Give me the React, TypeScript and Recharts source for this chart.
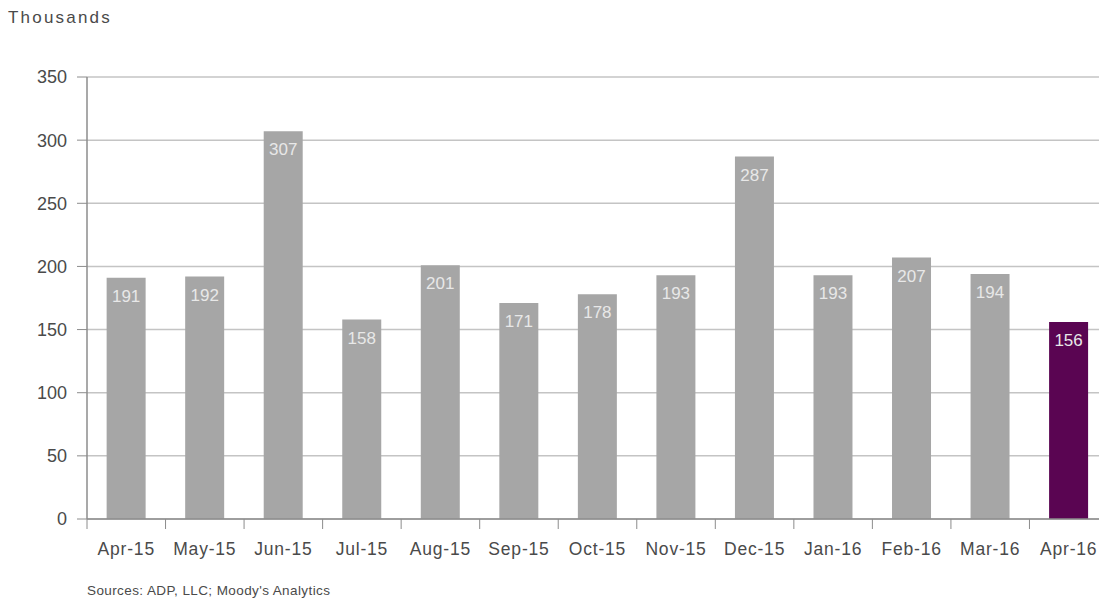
import React from "react";
import { BarChart, Bar, XAxis, YAxis, CartesianGrid, Cell, LabelList } from "recharts";

const categories = ["Apr-15", "May-15", "Jun-15", "Jul-15", "Aug-15", "Sep-15", "Oct-15", "Nov-15", "Dec-15", "Jan-16", "Feb-16", "Mar-16", "Apr-16"];
const values = [191, 192, 307, 158, 201, 171, 178, 193, 287, 193, 207, 194, 156];
const yTicks = [0, 50, 100, 150, 200, 250, 300, 350];

const data = categories.map((c, i) => ({ name: c, value: values[i] }));

const CHART_W = 1108;
const CHART_H = 601;
const Y_AXIS_W = 87;
const M_RIGHT = 0;
const BAND = (CHART_W - Y_AXIS_W - M_RIGHT) / categories.length;
const FONT = "'Liberation Sans', Arial, sans-serif";

const XTick = (props: any) => {
  const { x, y, payload, index } = props;
  return (
    <g>
      <line x1={x - BAND / 2} x2={x - BAND / 2} y1={y} y2={y + 10} stroke="#8c8c8c" strokeWidth={1} />
      {index === categories.length - 1 && (
        <line x1={x + BAND / 2} x2={x + BAND / 2} y1={y} y2={y + 10} stroke="#8c8c8c" strokeWidth={1} />
      )}
      <text x={x} y={y + 36} textAnchor="middle" fill="#4a4a4a" fontSize={17.5} fontFamily={FONT} letterSpacing={0.8}>
        {payload.value}
      </text>
    </g>
  );
};

export default function App() {
  return (
    <div style={{ position: "absolute", left: 0, top: 0, width: 1099, height: 601, overflow: "hidden", background: "#fff", fontFamily: FONT }}>
      <div style={{ position: "absolute", left: 8, top: 8, fontSize: 17, color: "#4a4a4a", letterSpacing: 2.2 }}>Thousands</div>
      <div style={{ position: "absolute", left: 87, top: 583, fontSize: 13.5, color: "#4a4a4a", letterSpacing: 0.4 }}>
        Sources: ADP, LLC; Moody's Analytics
      </div>
      <BarChart
        width={CHART_W}
        height={CHART_H}
        data={data}
        margin={{ top: 77, right: M_RIGHT, bottom: 42, left: 0 }}
        barCategoryGap="25%"
      >
        <CartesianGrid vertical={false} stroke="#c4c4c4" strokeWidth={1.5} />
        <XAxis
          dataKey="name"
          height={40}
          tickSize={0}
          tickMargin={0}
          tickLine={false}
          axisLine={{ stroke: "#8c8c8c", strokeWidth: 1.5 }}
          tick={<XTick />}
          interval={0}
        />
        <YAxis
          width={Y_AXIS_W}
          domain={[0, 350]}
          ticks={yTicks}
          tickSize={10}
          tickMargin={10}
          axisLine={{ stroke: "#8c8c8c", strokeWidth: 1.5 }}
          tickLine={{ stroke: "#8c8c8c" }}
          tick={{ fill: "#4a4a4a", fontSize: 18, fontFamily: FONT }}
        />
        <Bar dataKey="value" isAnimationActive={false}>
          {data.map((d, i) => (
            <Cell key={d.name} fill={i === data.length - 1 ? "#5a0552" : "#a6a6a6"} />
          ))}
          <LabelList dataKey="value" position="insideTop" offset={12} fill="#e8e8e8" fontSize={17} fontFamily={FONT} />
        </Bar>
      </BarChart>
    </div>
  );
}
